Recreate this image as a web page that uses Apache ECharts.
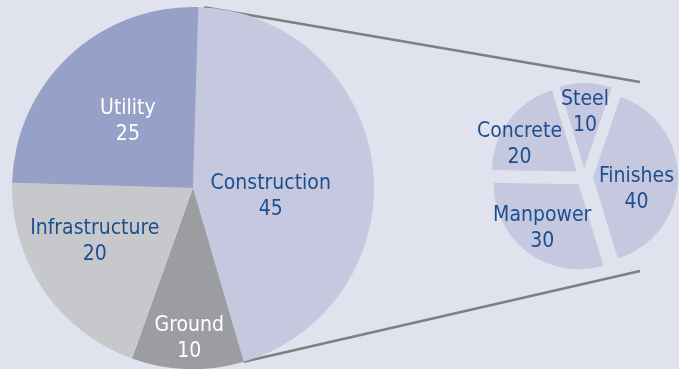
<!DOCTYPE html>
<html>
<head>
<meta charset="utf-8">
<script src="https://cdn.jsdelivr.net/npm/echarts@6/dist/echarts.min.js"></script>
<style>
  html, body { margin: 0; padding: 0; background: #e0e3ed; }
  #main { width: 679px; height: 369px; }
</style>
</head>
<body>
<div id="main"></div>
<script>
// main pie
var mainNames = ['Construction', 'Ground', 'Infrastructure', 'Utility'];
var mainValues = [45, 10, 20, 25];
// breakdown of Construction
var subNames = ['Steel', 'Finishes', 'Manpower', 'Concrete'];
var subValues = [10, 40, 30, 20];

var mainColors = ['#c6c8df', '#9c9da1', '#c7c8cb', '#97a0c6'];
var mainLabelColors = ['#1c4f8f', '#ffffff', '#1c4f8f', '#ffffff'];
var subColor = '#c6c8df';
var blue = '#1c4f8f';

// layout
var mainCenter = [193, 188], mainR = 181, mainStart = 88.3;
var subCenter = [584, 177], subR = 85, subStart = 107, subOffset = 9;
// label nudges (px) after the default 'inside' placement
var mainNudge = [[-15, 20], [-1, 57], [-21, 1], [-1, 2]];
var subNudge = [[0, -10], [-2, 12], [-9, 8], [-21, 0]];

var chart = echarts.init(document.getElementById('main'));

function ptOnMain(angleDeg) {
  var a = angleDeg * Math.PI / 180;
  return [mainCenter[0] + mainR * Math.cos(a), mainCenter[1] - mainR * Math.sin(a)];
}
var total = mainValues.reduce(function (s, v) { return s + v; }, 0);
var constrEnd = mainStart - mainValues[0] / total * 360;
var topStart = ptOnMain(mainStart - 1.8);
var botStart = ptOnMain(constrEnd);
var topEnd = [subCenter[0] + 56, subCenter[1] - 95];
var botEnd = [subCenter[0] + 56, subCenter[1] + 94];

var labelFont = {
  fontFamily: 'DejaVu Sans Condensed',
  fontSize: 21,
  lineHeight: 26
};

var option = {
  backgroundColor: '#e0e3ed',
  animation: false,
  graphic: [
    { type: 'line', z: 1, shape: { x1: topStart[0], y1: topStart[1], x2: topEnd[0], y2: topEnd[1] },
      style: { stroke: '#7f7f7f', lineWidth: 2.5 } },
    { type: 'line', z: 1, shape: { x1: botStart[0], y1: botStart[1], x2: botEnd[0], y2: botEnd[1] },
      style: { stroke: '#7f7f7f', lineWidth: 2.5 } }
  ],
  series: [
    {
      type: 'pie',
      center: mainCenter,
      radius: [0, mainR],
      startAngle: mainStart,
      clockwise: true,
      avoidLabelOverlap: false,
      emphasis: { disabled: true },
      label: Object.assign({ show: true, position: 'inside', formatter: '{b}\n{c}' }, labelFont),
      labelLine: { show: false },
      labelLayout: function (p) {
        var n = mainNudge[p.dataIndex];
        return { dx: n[0], dy: n[1] };
      },
      data: mainNames.map(function (n, i) {
        return {
          name: n, value: mainValues[i],
          itemStyle: { color: mainColors[i] },
          label: { color: mainLabelColors[i] }
        };
      })
    },
    {
      type: 'pie',
      center: subCenter,
      radius: [0, subR],
      startAngle: subStart,
      clockwise: true,
      avoidLabelOverlap: false,
      selectedMode: 'multiple',
      selectedOffset: subOffset,
      emphasis: { disabled: true },
      select: { itemStyle: { color: subColor } },
      label: Object.assign({ show: true, position: 'inside', formatter: '{b}\n{c}', color: blue }, labelFont),
      labelLine: { show: false },
      labelLayout: function (p) {
        var n = subNudge[p.dataIndex];
        return { dx: n[0], dy: n[1] };
      },
      data: subNames.map(function (n, i) {
        return { name: n, value: subValues[i], selected: true, itemStyle: { color: subColor } };
      })
    }
  ]
};
chart.setOption(option);
</script>
</body>
</html>
